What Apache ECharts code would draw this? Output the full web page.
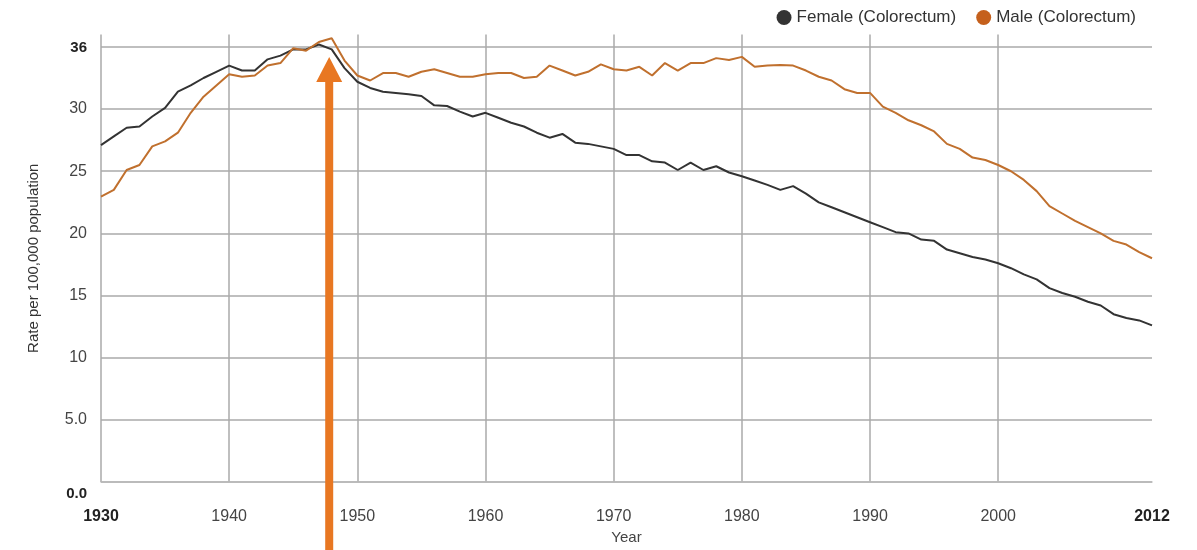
<!DOCTYPE html>
<html>
<head>
<meta charset="utf-8">
<script src="https://cdn.jsdelivr.net/npm/echarts@6/dist/echarts.min.js"></script>
<style>
  html, body { margin: 0; padding: 0; background: #fff; }
  #chart { width: 1197px; height: 550px; }
</style>
</head>
<body>
<div id="chart"></div>
<script>
// years 1930 .. 2012
const years = [];
for (let y = 1930; y <= 2012; y++) years.push(String(y));

// rate per 100,000
const female = [
  27.1, 27.8, 28.5, 28.6, 29.4, 30.1, 31.4, 31.9, 32.5, 33.0, // 1930s
  33.5, 33.1, 33.1, 34.0, 34.3, 34.8, 34.8, 35.2, 34.8, 33.3, // 1940s
  32.2, 31.7, 31.4, 31.3, 31.2, 31.05, 30.3, 30.25, 29.8, 29.4, // 1950s
  29.7, 29.3, 28.9, 28.6, 28.1, 27.7, 28.0, 27.3, 27.2, 27.0, // 1960s
  26.8, 26.3, 26.3, 25.8, 25.7, 25.1, 25.7, 25.1, 25.4, 24.9, // 1970s
  24.6, 24.25, 23.9, 23.5, 23.8, 23.2, 22.5, 22.1, 21.7, 21.3, // 1980s
  20.9, 20.5, 20.1, 20.0, 19.5, 19.4, 18.7, 18.4, 18.1, 17.9, // 1990s
  17.6, 17.2, 16.7, 16.3, 15.6, 15.2, 14.9, 14.5, 14.2, 13.5, // 2000s
  13.2, 13.0, 12.6
];
const male = [
  22.95, 23.5, 25.1, 25.5, 27.0, 27.4, 28.1, 29.7, 31.0, 31.9,
  32.8, 32.6, 32.7, 33.5, 33.7, 34.9, 34.7, 35.4, 35.7, 33.9,
  32.7, 32.3, 32.9, 32.9, 32.6, 33.0, 33.2, 32.9, 32.6, 32.6,
  32.8, 32.9, 32.9, 32.5, 32.6, 33.5, 33.1, 32.7, 33.0, 33.6,
  33.2, 33.1, 33.4, 32.7, 33.7, 33.1, 33.7, 33.7, 34.1, 33.95,
  34.2, 33.4, 33.5, 33.55, 33.5, 33.1, 32.6, 32.3, 31.6, 31.3,
  31.3, 30.2, 29.7, 29.1, 28.7, 28.2, 27.2, 26.8, 26.1, 25.9,
  25.5, 25.0, 24.3, 23.4, 22.2, 21.6, 21.0, 20.5, 20.0, 19.4,
  19.1, 18.5, 18.0
];

const xTickYears = ["1930", "1940", "1950", "1960", "1970", "1980", "1990", "2000", "2012"];
const xGridYears = ["1930", "1940", "1950", "1960", "1970", "1980", "1990", "2000"];

// annotation arrow pointing at the peak
const arrowYear = "1948";
const arrowTipValue = 34.2;

const chart = echarts.init(document.getElementById("chart"));
const font = "Liberation Sans, Arial, sans-serif";

const option = {
  animation: false,
  textStyle: { fontFamily: font },
  legend: {
    right: 56,
    top: 4,
    icon: "circle",
    itemWidth: 15,
    itemHeight: 15,
    itemGap: 20,
    textStyle: { fontSize: 17, color: "#333", fontFamily: font },
    data: ["Female (Colorectum)", "Male (Colorectum)"]
  },
  grid: { left: 101, right: 45, top: 34.5, bottom: 68 },
  xAxis: {
    type: "category",
    data: years,
    boundaryGap: false,
    name: "Year",
    nameLocation: "middle",
    nameGap: 48,
    nameTextStyle: { fontSize: 15, color: "#444" },
    axisLine: { lineStyle: { color: "#bbb", width: 1.5 } },
    axisTick: { show: false },
    axisLabel: {
      margin: 27,
      fontSize: 16,
      color: "#444",
      interval: (i, v) => xTickYears.includes(v),
      formatter: v => (v === "1930" || v === "2012") ? "{b|" + v + "}" : v,
      rich: { b: { fontWeight: "bold", color: "#222", fontSize: 16 } }
    },
    splitLine: {
      show: true,
      interval: (i, v) => xGridYears.includes(v),
      lineStyle: { color: "#aaa", width: 1.5 }
    }
  },
  yAxis: {
    type: "value",
    min: 0,
    max: 36,
    interval: 5,
    name: "Rate per 100,000 population",
    nameLocation: "middle",
    nameGap: 60,
    nameTextStyle: { fontSize: 15, color: "#333" },
    axisLine: { show: false },
    axisTick: { show: false },
    axisLabel: {
      margin: 14,
      fontSize: 16,
      color: "#444",
      showMaxLabel: true,
      formatter: v => {
        if (v === 0) return "{lo|0.0}";
        if (v === 36) return "{hi|36}";
        if (v === 35) return "";
        if (v === 5) return "5.0";
        return String(v);
      },
      rich: {
        lo: { fontWeight: "bold", color: "#222", fontSize: 15, padding: [24, 0, 0, 0] },
        hi: { fontWeight: "bold", color: "#222", fontSize: 15, padding: [27, 0, 0, 0] }
      }
    },
    splitLine: {
      lineStyle: {
        color: ["#aaa", "#aaa", "#aaa", "#aaa", "#aaa", "#aaa", "#aaa", "#aaa", "rgba(0,0,0,0)"],
        width: 1.5
      }
    }
  },
  series: [
    {
      name: "Female (Colorectum)",
      type: "line",
      data: female,
      symbol: "none",
      itemStyle: { color: "#333333" },
      lineStyle: { color: "#333333", width: 2 }
    },
    {
      name: "Male (Colorectum)",
      type: "line",
      data: male,
      symbol: "none",
      itemStyle: { color: "#c5601c" },
      lineStyle: { color: "#c0702e", width: 2 }
    }
  ]
};
chart.setOption(option);

// arrow annotation, placed through the axes
const tip = chart.convertToPixel({ xAxisIndex: 0, yAxisIndex: 0 }, [arrowYear, arrowTipValue]);
const cx = tip[0] - 2.5, ty = tip[1];
const headH = 25, headW = 13, shaftW = 4;
chart.setOption({
  graphic: [{
    type: "polygon",
    z: 100,
    shape: {
      points: [
        [cx, ty],
        [cx + headW, ty + headH],
        [cx + shaftW, ty + headH],
        [cx + shaftW, 550],
        [cx - shaftW, 550],
        [cx - shaftW, ty + headH],
        [cx - headW, ty + headH]
      ]
    },
    style: { fill: "#e87722" }
  }]
});
</script>
</body>
</html>
